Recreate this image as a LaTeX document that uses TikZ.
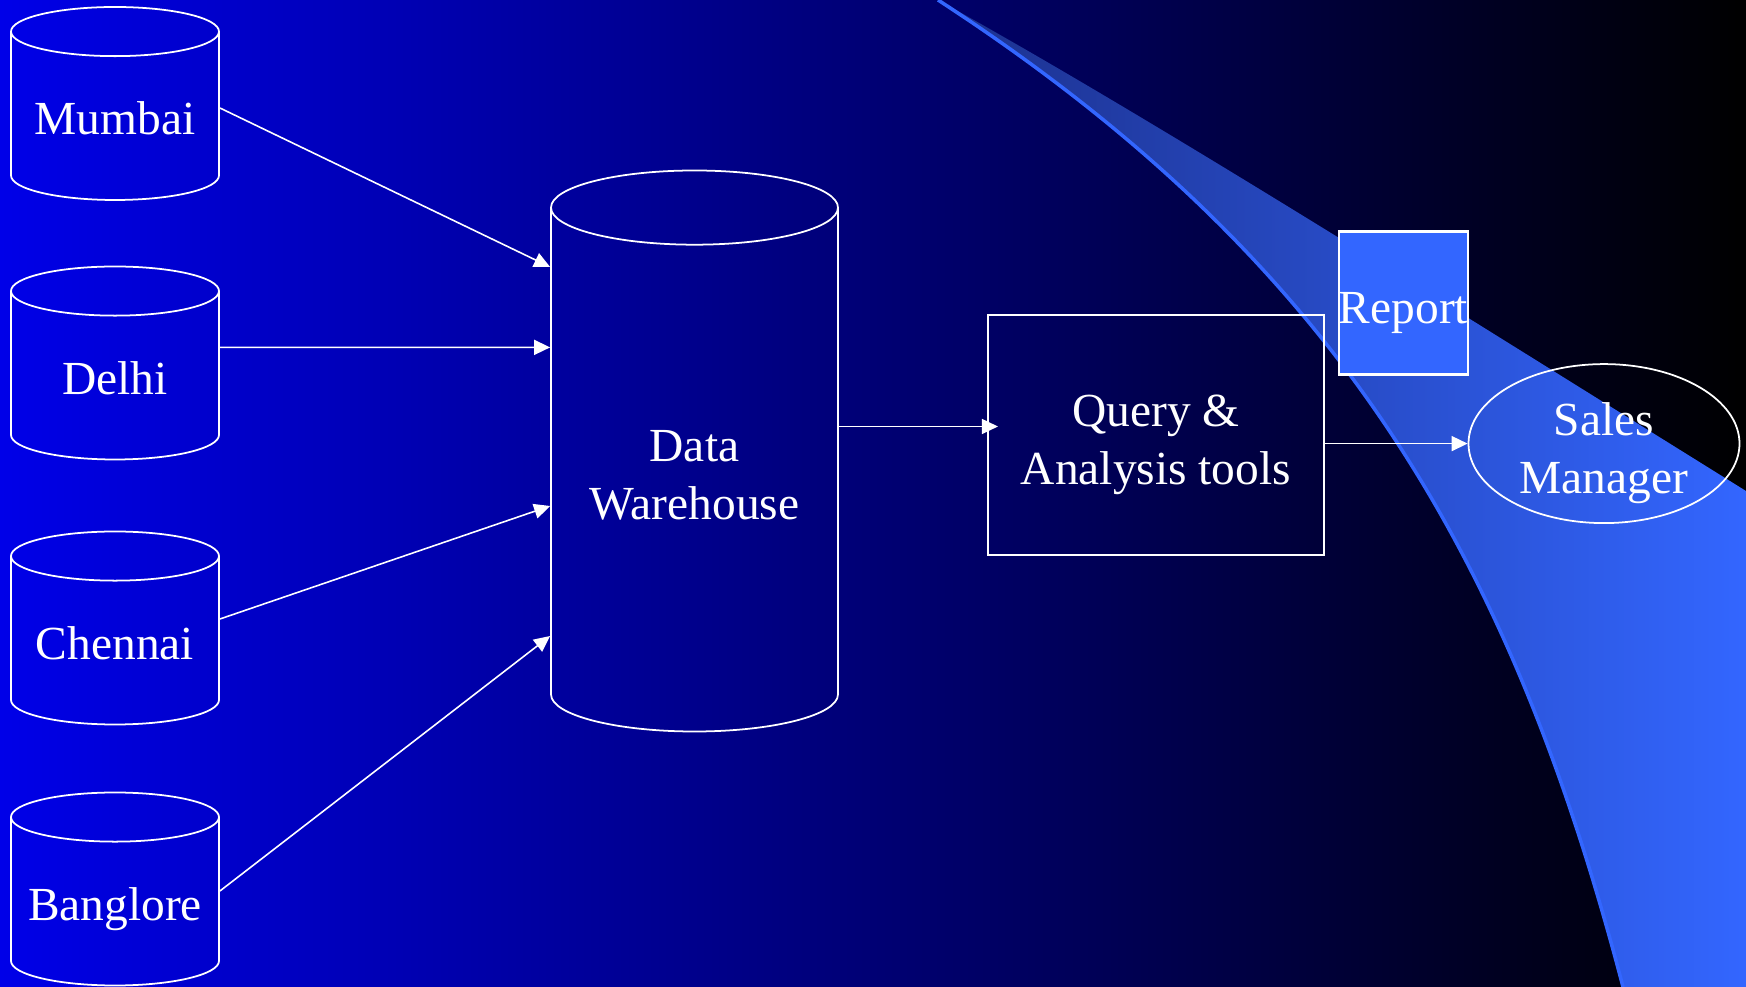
\documentclass[tikz,border=0pt]{standalone}
\usepackage{fontspec}
\setmainfont{Liberation Serif}
\usetikzlibrary{positioning,shapes.geometric,arrows.meta}

\definecolor{bgblue}{RGB}{0,0,232}
\definecolor{swooshdark}{RGB}{28,48,140}
\definecolor{swooshblue}{RGB}{51,102,255}

% pushes a text a little lower in its box
\newcommand{\padtop}[1][0.52cm]{\rule{0pt}{#1}}

\tikzset{
  db/.style={draw=white, line width=0.5pt, cylinder, shape border rotate=90,
    inner sep=0pt, text=white, align=center, anchor=shape center},
  site/.style={db, shape aspect=0.273, text width=1.8cm, text height=0.37cm, text depth=0pt,
    minimum width=2.08cm, minimum height=1.93cm},
  box/.style={draw=white, line width=0.6pt, rectangle, text=white, align=center},
  flow/.style={draw=white, line width=0.45pt, -{Triangle[length=0.16cm,width=0.15cm]}}
}

\begin{document}
\begin{tikzpicture}[font=\fontsize{13.5}{16.5}\selectfont]
\useasboundingbox (0,0) rectangle (17.46,9.87);
\shade[left color=bgblue, right color=black] (0,0) rectangle (17.46,9.87);

% light beam on the right
\shade[left color=swooshdark, right color=swooshblue]
  (9.38,9.87) .. controls (13.38,7.27) and (15.10,4.32) .. (16.23,0)
  -- (17.46,0) -- (17.46,4.96)
  .. controls (14.5,6.8) and (11.5,8.7) .. (9.38,9.87) -- cycle;
\draw[swooshblue, line width=1pt] (9.38,9.87) .. controls (13.38,7.27) and (15.10,4.32) .. (16.23,0);

\node (mumbai) [site] at (1.15,8.835) {Mumbai};
\node (delhi) [site] at (1.15,6.24) {Delhi};
\node (chennai) [site] at (1.15,3.59) {Chennai};
\node (banglore) [site] at (1.15,0.98) {Banglore};

\node (dw) [db, shape aspect=0.354, minimum width=2.87cm, minimum height=5.61cm] at (6.945,5.36) {\padtop[0.41cm]Data\\Warehouse};
\node (query) [box, minimum width=3.36cm, minimum height=2.40cm] at (11.56,5.52) {\padtop Query \&\\Analysis tools};
\node (report) [box, fill=swooshblue, line width=0.7pt, minimum width=1.28cm, minimum height=1.43cm, inner sep=0pt] at (14.035,6.84) {\padtop Report};
\node (sales) [ellipse, draw=white, line width=0.5pt, text=white, align=center, inner xsep=0pt, inner ysep=-0.1cm,
  minimum width=2.71cm, minimum height=1.59cm] at (16.04,5.434) {\padtop Sales\\Manager};

\draw[flow] ([yshift=-0.045cm]mumbai.shape center -| mumbai.east) -- ([yshift=1.84cm]dw.shape center -| dw.west);
\draw[flow] ([yshift=0.156cm]delhi.shape center -| delhi.east) -- ([yshift=1.036cm]dw.shape center -| dw.west);
\draw[flow] ([yshift=0.09cm]chennai.shape center -| chennai.east) -- ([yshift=-0.55cm]dw.shape center -| dw.west);
\draw[flow] ([yshift=-0.02cm]banglore.shape center -| banglore.east) -- ([yshift=-1.85cm]dw.shape center -| dw.west);
\draw[flow] ([yshift=0.085cm]query.west -| dw.east) -- ([xshift=0.11cm,yshift=0.085cm]query.west);
\draw[flow] (query.east |- sales.west) -- (sales.west);
\end{tikzpicture}
\end{document}
